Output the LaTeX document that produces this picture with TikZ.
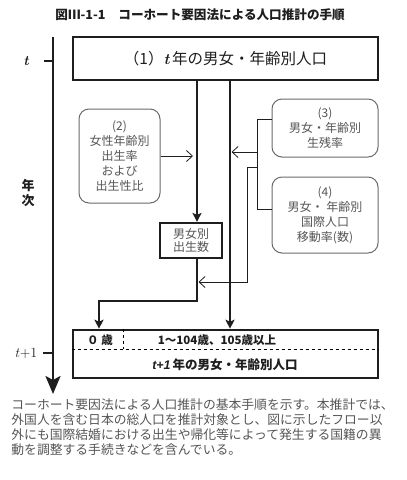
\documentclass[tikz,border=0pt]{standalone}
\usepackage{fontspec}
\newfontfamily\cjk{Noto Sans CJK JP}
\newfontfamily\lat{Liberation Sans}
\usetikzlibrary{arrows.meta, positioning, calc}
\definecolor{cink}{HTML}{1E1E1E}
\definecolor{cgrey}{HTML}{555555}
\definecolor{cedge}{HTML}{6A6A6A}
\tikzset{
  every picture/.style={font=\cjk, line width=0.8pt, x=1pt, y=-1pt},
  heavy/.style={draw=cink, line width=2.6pt},
  mainbox/.style={heavy, inner sep=0pt, text=cink, align=center},
  factor/.style={draw=cedge, line width=1pt, rounded corners=10pt, inner sep=0pt,
                 text=cgrey, align=center, font=\cjk\fontsize{12}{15}\selectfont},
  flow/.style={heavy, -{Stealth[length=9pt, width=9pt, inset=2pt]}},
  feed/.style={draw=cink, line width=0.8pt, -{Straight Barb[length=6pt, width=11pt]}},
  figtitle/.style={font=\cjk\bfseries\fontsize{12.6}{14}\selectfont, text=cink, inner sep=0pt},
  note/.style={font=\cjk\fontsize{12.8}{15}\selectfont, text=cgrey, align=left, inner sep=0pt},
}

\begin{document}
\begin{tikzpicture}
  \useasboundingbox (0,0) rectangle (407,480);
  \node[figtitle, anchor=west] (fignum) at (55,15) {図Ⅲ-1-1};
  \node[figtitle, anchor=west] (title) at (118,15) {コーホート要因法による人口推計の手順};

  % time axis
  \coordinate (axtop) at (53,37);
  \coordinate (axend) at (53,394);
  \draw[heavy, -{Stealth[length=18pt, width=15pt, inset=4pt]}] (axtop) -- (axend);
  \node[font=\rmfamily\bfseries\itshape\fontsize{14}{14}\selectfont, text=cink] (tnow) at (26,61) {t};
  \node[font=\rmfamily\fontsize{14}{14}\selectfont, text=cink] (tnext) at (26,353) {\textit{t}+1};
  \coordinate (tick1) at (44,61);
  \coordinate (tick2) at (43,353);
  \draw[heavy] (tick1) -- (axtop |- tick1);
  \draw[heavy] (tick2) -- (axtop |- tick2);
  \node[font=\cjk\bfseries\fontsize{13}{15}\selectfont, text=cink, align=center] (years) at (28,193) {年\\次};

  % populations at t and t+1
  \node[mainbox, minimum width=305pt, minimum height=43pt,
        font=\cjk\fontsize{15.5}{15}\selectfont] (pop1) at (225.5,58.5)
        {（1）{\rmfamily\bfseries\itshape t}\,年の男女・年齢別人口};
  \node[mainbox, minimum width=305pt, minimum height=48pt] (pop2) at (225.5,354) {};
  \draw[dashed, line width=0.6pt] ($(pop2.west)+(0,-5)$) -- ($(pop2.east)+(0,-5)$);
  \draw[dashed, line width=0.6pt] ($(pop2.north west)+(52,0)$) -- ($(pop2.west)+(52,-5)$);
  \node[font=\cjk\bfseries\fontsize{11.5}{12}\selectfont, text=cink] (age0) at (100,340) {０ 歳};
  \node[font=\cjk\bfseries\fontsize{11.5}{12}\selectfont, text=cink] (ages) at (217,340) {1～104歳、105歳以上};
  \node[font=\cjk\bfseries\fontsize{12.5}{13}\selectfont, text=cink] (lbl2) at (225,365)
        {{\lat\bfseries\itshape t+1}\,年の男女・年齢別人口};

  % factors
  \node[factor, minimum width=81pt, minimum height=94pt] (fert) at (119.5,156)
        {(2)\\女性年齢別\\出生率\\および\\出生性比};
  \node[factor, minimum width=106pt, minimum height=58pt] (surv) at (325,128)
        {(3)\\男女・年齢別\\生残率};
  \node[factor, minimum width=106pt, minimum height=76pt] (migr) at (325,215)
        {(4)\\男女・ 年齢別\\国際人口\\移動率(数)};
  \node[mainbox, draw=cink, line width=2.2pt, minimum width=62pt, minimum height=35pt,
        text=cgrey, font=\cjk\fontsize{12}{13.5}\selectfont] (birth) at (191,240.5)
        {男女別\\出生数};

  % flows
  \coordinate (bL) at (197,0);
  \coordinate (bR) at (230,0);
  \coordinate (bend) at (197,301);
  \coordinate (zeroX) at (99,0);
  \draw[flow] (bL |- pop1.south) -- (bL |- birth.north);
  \draw[flow] (bR |- pop1.south) -- (bR |- pop2.north);
  \draw[flow] (bL |- birth.south) -- (bend) -| (zeroX |- pop2.north);

  \coordinate (brk) at (257,0);
  \coordinate (jn1) at (257,152);
  \coordinate (jn2) at (257,167);
  \coordinate (mg) at (247,282);
  \draw[draw=cink] ($(surv.west)+(0,-9)$) -| ($(brk |- migr.west)+(0,-6)$) -- ($(migr.west)+(0,-6)$);
  \draw[feed, shorten >=4pt] (fert.east) -- (bL |- fert.east);
  \draw[feed, shorten >=1.5pt] (jn1) -- (bR |- jn1);
  \draw[feed, shorten >=1.5pt] (jn2) -| (mg) -- (bL |- mg);

  \node[note, anchor=north west] (note) at (11,398)
        {コーホート要因法による人口推計の基本手順を示す。本推計では、\\
         外国人を含む日本の総人口を推計対象とし、図に示したフロー以\\
         外にも国際結婚における出生や帰化等によって発生する国籍の異\\
         動を調整する手続きなどを含んでいる。};
\end{tikzpicture}
\end{document}
